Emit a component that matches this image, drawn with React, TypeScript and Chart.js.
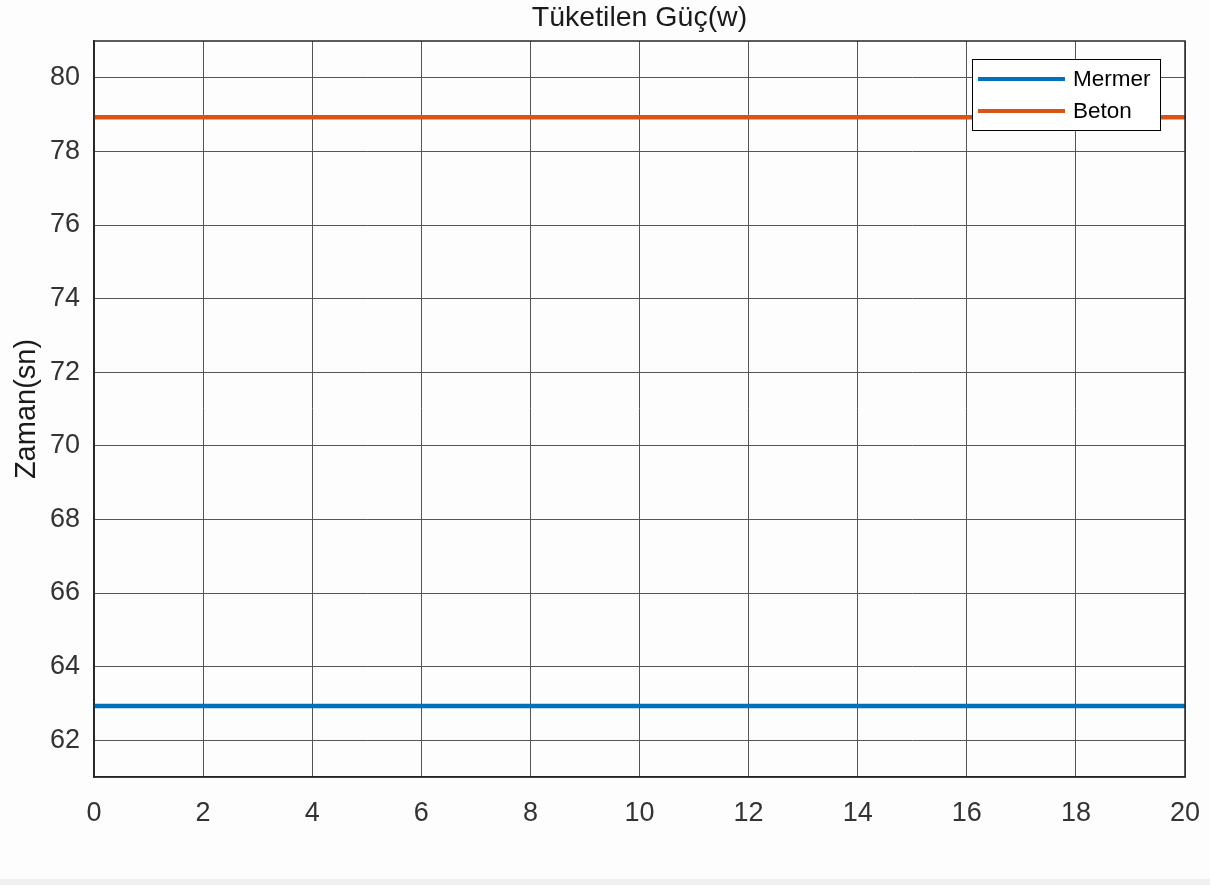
import React, { useEffect, useRef } from "react";
import { Chart, registerables } from "chart.js";

Chart.register(...registerables);

const titleText = "Tüketilen Güç(w)";
const yAxisTitle = "Zaman(sn)";
const seriesNames = ["Mermer", "Beton"];
const seriesColors = ["#0072BD", "#D95319"];
const times = [0, 2, 4, 6, 8, 10, 12, 14, 16, 18, 20];
const mermerValues = [62.93, 62.93, 62.93, 62.93, 62.93, 62.93, 62.93, 62.93, 62.93, 62.93, 62.93];
const betonValues = [78.93, 78.93, 78.93, 78.93, 78.93, 78.93, 78.93, 78.93, 78.93, 78.93, 78.93];
const xTicks = [0, 2, 4, 6, 8, 10, 12, 14, 16, 18, 20];
const yTicks = [62, 64, 66, 68, 70, 72, 74, 76, 78, 80];
const xRange = [0, 20];
const yRange = [61, 81];

const FONT = '"Liberation Sans", Arial, sans-serif';

const backgroundPlugin = {
  id: "bgPaint",
  beforeDraw(chart: any) {
    const { ctx, width, height } = chart;
    ctx.save();
    ctx.fillStyle = "#fdfdfd";
    ctx.fillRect(0, 0, width, height);
    ctx.fillStyle = "#f0f0f0";
    ctx.fillRect(0, height - 6, width, 6);
    ctx.restore();
  },
};

const framePlugin = {
  id: "axesFrame",
  afterDraw(chart: any) {
    const { ctx, chartArea: a } = chart;
    ctx.save();
    ctx.strokeStyle = "#262626";
    ctx.lineWidth = 1.5;
    ctx.strokeRect(a.left, a.top, a.right - a.left, a.bottom - a.top);
    ctx.restore();
  },
};

const boxLegendPlugin = {
  id: "boxLegend",
  afterDraw(chart: any) {
    const { ctx, chartArea: a } = chart;
    const x = a.right - 213;
    const y = a.top + 18;
    const w = 188;
    const h = 71;
    ctx.save();
    ctx.fillStyle = "#ffffff";
    ctx.fillRect(x, y, w, h);
    ctx.strokeStyle = "#000000";
    ctx.lineWidth = 1;
    ctx.strokeRect(x + 0.5, y + 0.5, w, h);
    chart.data.datasets.forEach((ds: any, i: number) => {
      const ly = y + 20 + i * 32;
      ctx.strokeStyle = ds.borderColor;
      ctx.lineWidth = 4;
      ctx.beginPath();
      ctx.moveTo(x + 6, ly);
      ctx.lineTo(x + 93, ly);
      ctx.stroke();
      ctx.fillStyle = "#000000";
      ctx.font = `22.5px ${FONT}`;
      ctx.textBaseline = "middle";
      ctx.textAlign = "left";
      ctx.fillText(ds.label, x + 101, ly + 1);
    });
    ctx.restore();
  },
};

export default function App() {
  const canvasRef = useRef<HTMLCanvasElement | null>(null);

  useEffect(() => {
    document.body.style.margin = "0";
    const canvas = canvasRef.current;
    if (!canvas) return;
    const seriesValues = [mermerValues, betonValues];
    const chart = new Chart(canvas, {
      type: "line",
      data: {
        datasets: seriesNames.map((name, i) => ({
          label: name,
          data: times.map((t, j) => ({ x: t, y: seriesValues[i][j] })),
          borderColor: seriesColors[i],
          backgroundColor: seriesColors[i],
          borderWidth: 4.5,
          pointRadius: 0,
          fill: false,
          tension: 0,
        })),
      },
      options: {
        responsive: false,
        animation: false,
        layout: { padding: { top: 0, right: 25, bottom: 0, left: 0 } },
        plugins: {
          legend: { display: false },
          tooltip: { enabled: false },
          title: {
            display: true,
            text: titleText,
            fullSize: false,
            color: "#1a1a1a",
            font: { size: 28.5, family: FONT, weight: "normal", lineHeight: 1.2 },
            padding: { top: 1, bottom: 5.8 },
          },
        },
        scales: {
          x: {
            type: "linear",
            min: xRange[0],
            max: xRange[1],
            afterBuildTicks: (s: any) => {
              s.ticks = xTicks.map((v) => ({ value: v }));
            },
            afterFit: (s: any) => {
              s.height = 108;
              s.paddingLeft = 0;
              s.paddingRight = 0;
            },
            grid: { color: "#555555", lineWidth: 1, drawTicks: false },
            border: { display: true, color: "#262626", width: 1.5 },
            ticks: {
              padding: 20,
              color: "#333333",
              maxRotation: 0,
              autoSkip: false,
              font: { size: 27, family: FONT },
            },
          },
          y: {
            type: "linear",
            min: yRange[0],
            max: yRange[1],
            afterBuildTicks: (s: any) => {
              s.ticks = yTicks.map((v) => ({ value: v }));
            },
            afterFit: (s: any) => {
              s.width = 94;
              s.paddingTop = 0;
              s.paddingBottom = 0;
            },
            grid: { color: "#555555", lineWidth: 1, drawTicks: false },
            border: { display: true, color: "#262626", width: 1.5 },
            ticks: {
              padding: 14,
              color: "#333333",
              autoSkip: false,
              font: { size: 27, family: FONT },
            },
            title: {
              display: true,
              text: yAxisTitle,
              color: "#1a1a1a",
              font: { size: 29, family: FONT, lineHeight: 1.2 },
              padding: { top: 10, bottom: 0 },
            },
          },
        },
      },
      plugins: [backgroundPlugin, framePlugin, boxLegendPlugin],
    } as any);
    return () => chart.destroy();
  }, []);

  return (
    <div style={{ position: "absolute", left: 0, top: 0, width: 1210, height: 885 }}>
      <canvas ref={canvasRef} width={1210} height={885} style={{ display: "block" }} />
    </div>
  );
}
